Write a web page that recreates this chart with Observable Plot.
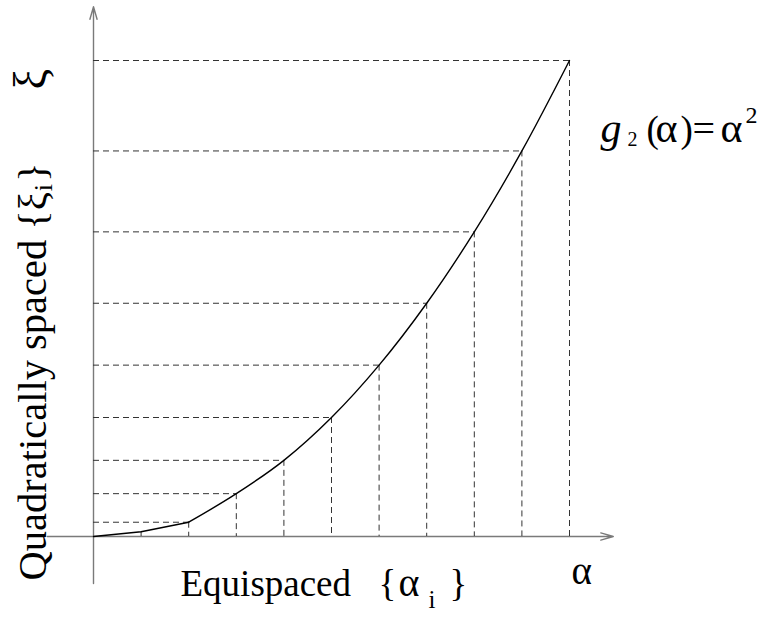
<!DOCTYPE html>
<html><head><meta charset="utf-8">
<script src="https://cdn.jsdelivr.net/npm/d3@7"></script>
<script src="https://cdn.jsdelivr.net/npm/@observablehq/plot@0.6"></script>
<style>body{margin:0;background:#fff} svg{display:block}</style>
</head><body><div id="chart"></div>
<script>
// equispaced nodes alpha_i and the quadratically spaced values xi_i
const alphaIndex = [0, 1, 2, 3, 4, 5, 6, 7, 8, 9, 10];
const xiValues   = [0, 1, 3, 9, 16, 25, 36, 49, 64, 81, 100];
// axis arrow extents (data units)
const xAxisExtent = [-0.97, 10.92];
const yAxisExtent = [-9.9, 111.3];
// labels
const yAxisLetter = "ξ";
const xAxisLetter = "α";
const yLabelParts = ["Quadratically spaced {ξ", "i", "}"];
const xLabelParts = ["Equispaced", "{", "α", "i", "}"];
const fnLabelParts = ["g", "2", "(", "α", ")", "=", "α", "2"];

const nodes = alphaIndex.map((a, i) => ({a, xi: xiValues[i]}));
const linearPart = nodes.filter(d => d.a <= 2);
const curvedPart = nodes.filter(d => d.a >= 2);
const hGuides = nodes.filter(d => d.a >= 2);
const vGuides = nodes.filter(d => d.a >= 1);

const serif = "'Liberation Serif', 'Times New Roman', serif";
const ML = 93, MT = 60;
function label(text, X, Y, opts = {}) {
  return Plot.text([text], {
    text: d => d, frameAnchor: "top-left", dx: X - ML, dy: Y - MT,
    textAnchor: "start", lineAnchor: "bottom",
    fontFamily: serif, fontSize: 37, fill: "#000", ...opts
  });
}
const dash = {stroke: "#333", strokeWidth: 1, strokeDasharray: "6,4"};
const axisStyle = {stroke: "#7a7a7a", strokeWidth: 1.4, headLength: 13 * 1.5 / 1.4, headAngle: 32};

const chart = Plot.plot({
  width: 762, height: 617,
  marginLeft: ML, marginRight: 193, marginTop: MT, marginBottom: 81,
  x: {domain: [0, 10], axis: null},
  y: {domain: [0, 100], axis: null},
  style: {background: "#fff", overflow: "visible"},
  marks: [
    Plot.arrow([{x1: xAxisExtent[0], x2: xAxisExtent[1]}], {x1: "x1", x2: "x2", y1: 0, y2: 0, ...axisStyle}),
    Plot.arrow([{y1: yAxisExtent[0], y2: yAxisExtent[1]}], {y1: "y1", y2: "y2", x1: 0, x2: 0, ...axisStyle}),
    Plot.ruleY(hGuides, {y: "xi", x1: 0, x2: "a", ...dash}),
    Plot.ruleX(vGuides, {x: "a", y1: "xi", y2: 0, ...dash}),
    Plot.line(linearPart, {x: "a", y: "xi", stroke: "#000", strokeWidth: 1.4}),
    Plot.line(curvedPart, {x: "a", y: "xi", curve: "catmull-rom", stroke: "#000", strokeWidth: 1.4}),
    label(yAxisLetter, 45, 89, {rotate: -90, fontSize: 46}),
    label(xAxisLetter, 571, 583, {fontSize: 39}),
    label(yLabelParts.join(""), 45, 580, {rotate: -90, fontSize: 40.5}),
    label(xLabelParts.join(""), 180, 595),
    label(fnLabelParts.join(""), 600, 141)
  ]
});
document.getElementById("chart").appendChild(chart);

// rich text: subscripts / superscripts as tspans (x, y are local to the label's anchor)
const rich = new Map([
  [yLabelParts.join(""), [[yLabelParts[0], {}], [yLabelParts[1], {size: 26, dy: 6, dx: 1}], [yLabelParts[2], {size: 40.5, dy: -6, dx: 2}]]],
  [xLabelParts.join(""), [[xLabelParts[0], {x: 0, y: 0}], [xLabelParts[1], {x: 198, y: 0}], [xLabelParts[2], {x: 218, y: 0, size: 40}],
                          [xLabelParts[3], {x: 248, y: 12, size: 25}], [xLabelParts[4], {x: 269, y: 0, size: 37}]]],
  [fnLabelParts.join(""), [[fnLabelParts[0], {x: 0, y: 0, italic: true, size: 42}], [fnLabelParts[1], {x: 27, y: 4, size: 20}],
                           [fnLabelParts[2], {x: 46, y: 0, size: 37}], [fnLabelParts[3], {x: 55, y: 0, size: 42}],
                           [fnLabelParts[4], {x: 80, y: 0, size: 37}], [fnLabelParts[5], {x: 92, y: 0, size: 40}],
                           [fnLabelParts[6], {x: 120, y: 0, size: 42}], [fnLabelParts[7], {x: 145, y: -19, size: 24}]]]
]);
d3.select(chart).selectAll("text").each(function () {
  const spec = rich.get(this.textContent);
  if (!spec) return;
  const t = d3.select(this);
  t.attr("xml:space", "preserve").style("white-space", "pre");
  t.text(null);
  for (const [s, o] of spec) {
    const ts = t.append("tspan").text(s);
    if (o.size) ts.attr("font-size", o.size);
    if (o.x != null) ts.attr("x", o.x);
    if (o.y != null) ts.attr("y", o.y);
    if (o.dy) ts.attr("dy", o.dy);
    if (o.dx) ts.attr("dx", o.dx);
    if (o.italic) ts.attr("font-style", "italic");
  }
});
</script>
</body></html>
